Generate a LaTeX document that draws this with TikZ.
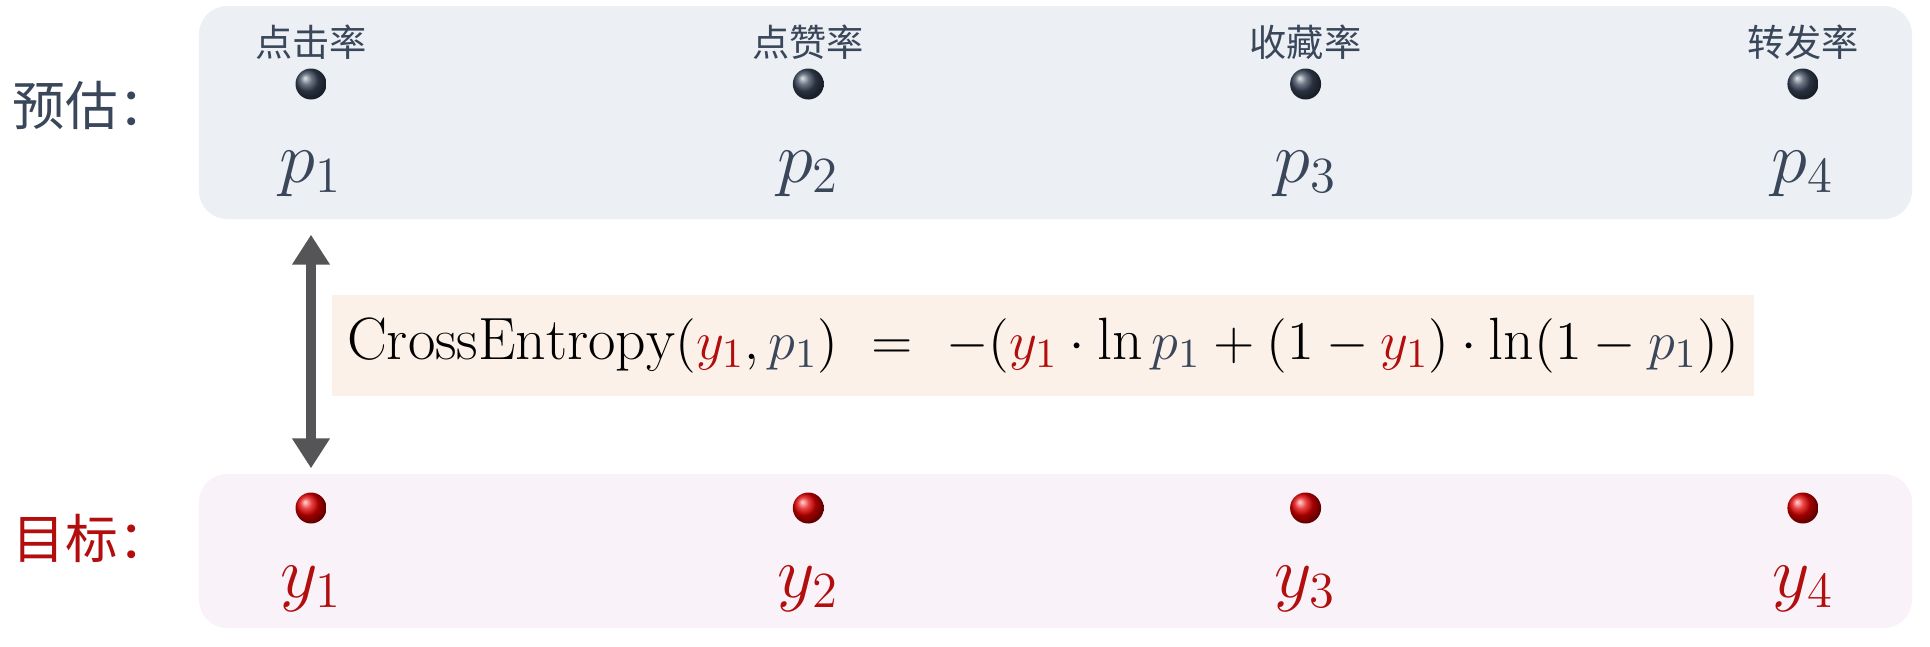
\documentclass[tikz,border=0pt]{standalone}
\usepackage{fontspec}
\newfontfamily\cjk{Noto Sans CJK SC}
\usepackage{graphicx}
\usepackage{tikz}
\usetikzlibrary{arrows.meta,calc,positioning,shapes}
\definecolor{slate}{RGB}{58,70,90}
\definecolor{tred}{RGB}{178,14,14}
\definecolor{estfill}{RGB}{236,240,244}
\definecolor{tgtfill}{RGB}{249,243,249}
\definecolor{eqfill}{RGB}{252,241,233}
\definecolor{arrgray}{RGB}{85,85,87}
\tikzstyle{band}=[rounded corners=0.28cm, inner sep=0pt]
\tikzstyle{pdot}=[circle, inner sep=0pt, minimum size=3.1mm, ball color=slate]
\tikzstyle{ydot}=[circle, inner sep=0pt, minimum size=3.1mm, ball color=red!90!black]
\tikzstyle{rate}=[inner sep=0pt, text=slate, font=\cjk\fontsize{10.6}{10.6}\selectfont]
\tikzstyle{plab}=[inner sep=0pt, anchor=base, text=slate, font=\fontsize{20}{20}\selectfont]
\tikzstyle{ylab}=[inner sep=0pt, anchor=base, text=tred, font=\fontsize{20}{20}\selectfont]
\tikzstyle{side}=[inner sep=0pt, anchor=west, font=\cjk\fontsize{15}{15}\selectfont]
\tikzstyle{bigarrow}=[{Triangle[width=3.6mm,length=3mm]}-{Triangle[width=3.6mm,length=3mm]}, line width=1mm, arrgray]
\newcommand{\colO}{3.11}
\newcommand{\colX}{4.973}
\newcommand{\yy}[1]{\textcolor{tred}{y_{#1}}}
\newcommand{\pp}[1]{\textcolor{slate}{p_{#1}}}

\begin{document}
\begin{tikzpicture}[x=1cm,y=-1cm]
\useasboundingbox (0,0) rectangle (19.30,6.46);
% the two bands
\node[band, fill=estfill, minimum width=17.13cm, minimum height=2.13cm] (est) at (10.555,1.125) {};
\node[band, fill=tgtfill, minimum width=17.13cm, minimum height=1.54cm] (tgt) at (10.555,5.51) {};
\node[side, text=slate] (estlab) at (0.12,1.05) {预估：};
\node[side, text=tred] (tgtlab) at (0.12,5.38) {目标：};
% one column per rate
\foreach \i/\name in {1/点击率,2/点赞率,3/收藏率,4/转发率} {
	\node[pdot] (pd\i) at ({\colO+(\i-1)*\colX},0.84) {};
	\node[rate, above=0.08cm of pd\i] (rt\i) {\name};
	\node[plab] (pl\i) at ({\colO+(\i-1)*\colX},1.82) {$p_{\i}$};
	\node[ydot] (yd\i) at ({\colO+(\i-1)*\colX},5.08) {};
	\node[ylab] (yl\i) at ({\colO+(\i-1)*\colX},5.97) {$y_{\i}$};
}
% the loss
\node[fill=eqfill, inner sep=0pt, minimum width=14.22cm, minimum height=1.01cm, font=\fontsize{15.8}{15.8}\selectfont] (ce) at (10.43,3.455)
	{\scalebox{1.075}{$\mathrm{CrossEntropy}(\yy{1},\pp{1})\ =\ -(\yy{1}\cdot\ln\pp{1}+(1-\yy{1})\cdot\ln(1-\pp{1}))$}};
\coordinate (atop) at ($(pd1 |- est.south)+(0,0.15)$);
\coordinate (abot) at ($(yd1 |- tgt.north)+(0,-0.05)$);
\draw[bigarrow] (atop) -- (abot);
\end{tikzpicture}
\end{document}
